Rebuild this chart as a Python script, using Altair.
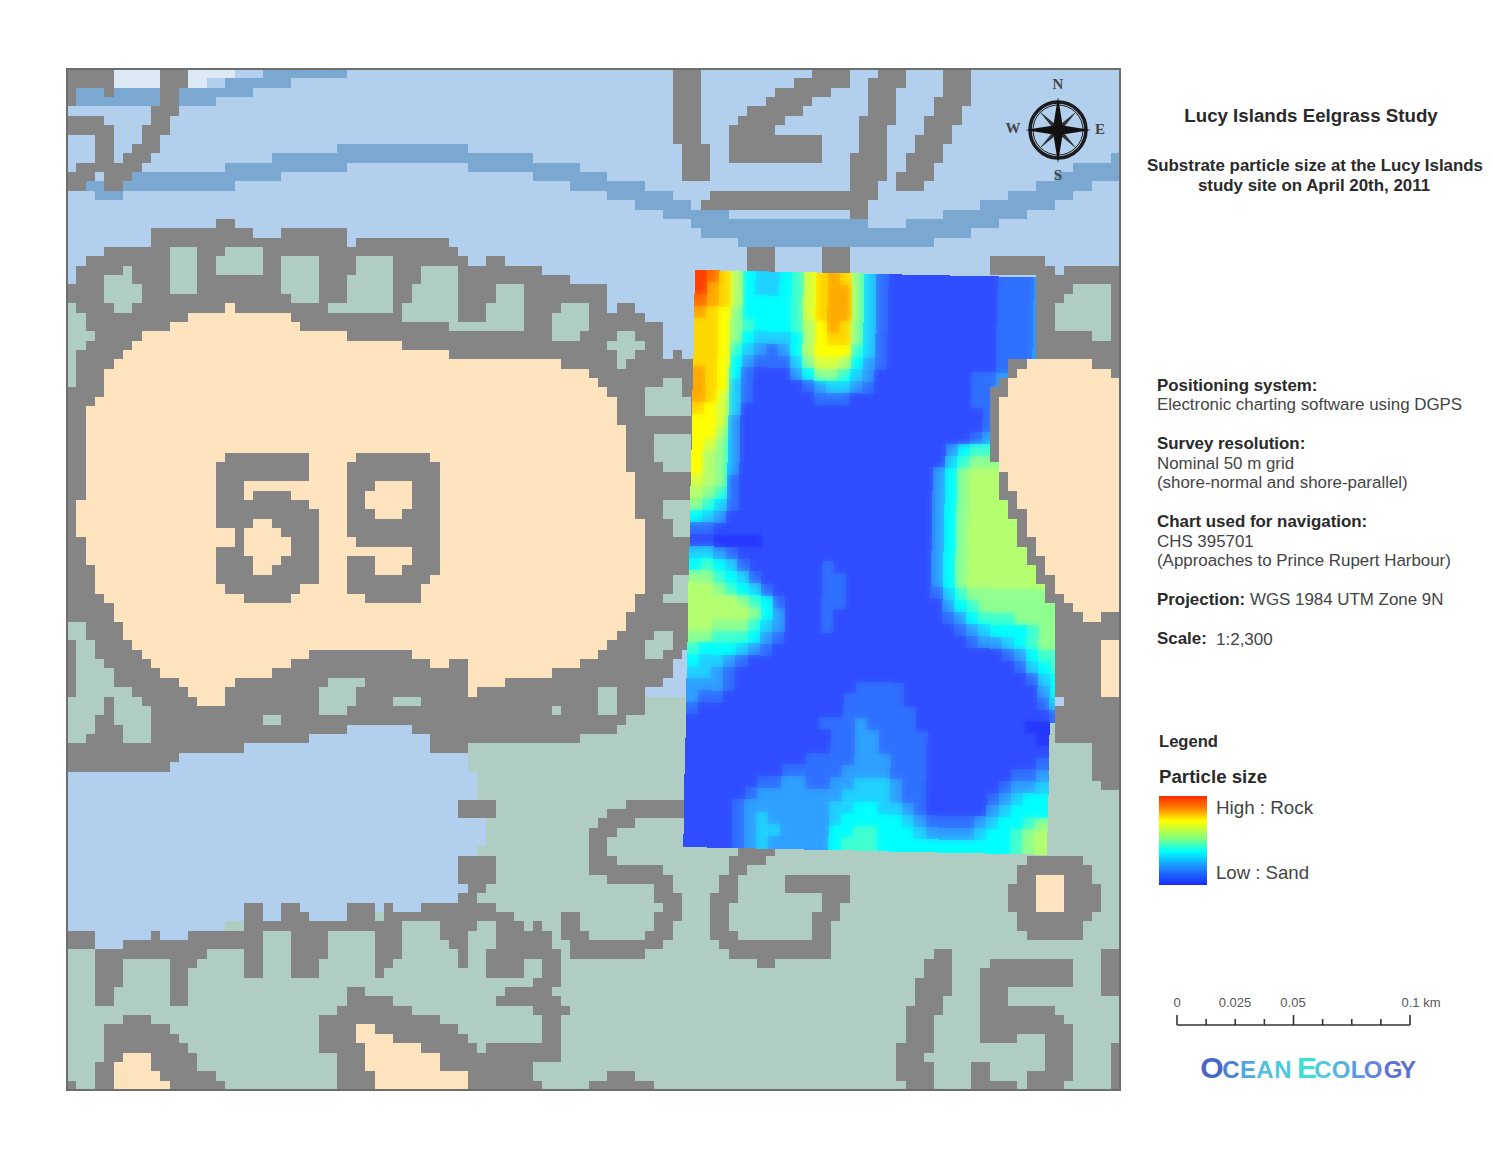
import numpy as np
import pandas as pd
import altair as alt

alt.data_transformers.disable_max_rows()

BLUE, LIGHT, CHANNEL, SAGE, GRAY, TAN = "#b2cfed", "#dce9f5", "#7ba8d0", "#afcdc2", "#858585", "#fde4bf"
MAP_X0, MAP_X1, MAP_Y0, MAP_Y1 = 67, 1120, 69, 1090
N_COLS, N_ROWS = 113, 109

TAN_59 = [(230,303),(238,303),(240,313),(273,313),(303,322),(303,332),(385,340),(410,348),(453,350),(453,358),(545,360),(583,370),(610,393),(620,413),(630,470),(638,517),(648,517),(648,592),(638,592),(630,617),(620,637),(610,647),(592,657),(573,667),(547,675),(537,683),(517,675),(500,685),(472,693),(472,677),(462,657),(443,667),(417,657),(397,647),(332,647),(303,657),(285,667),(265,675),(230,685),(230,702),(202,702),(182,685),(163,675),(147,657),(128,637),(110,608),(98,590),(90,567),(82,537),(73,535),(73,497),(82,497),(82,423),(92,405),(100,393),(110,368),(118,358),(137,342),(155,330),(182,322),(202,313),(220,313)]
RING_OUTER = [(67,287),(82,267),(90,258),(110,248),(155,248),(155,230),(212,230),(220,238),(220,220),(238,220),(238,230),(275,238),(285,230),(340,230),(350,245),(360,238),(425,238),(443,238),(452,248),(472,258),(472,267),(490,267),(490,257),(508,257),(508,267),(535,267),(545,277),(553,285),(553,277),(573,277),(573,285),(602,285),(610,295),(610,313),(620,313),(620,305),(638,305),(638,313),(657,323),(665,332),(665,358),(675,358),(675,350),(683,350),(683,358),(700,358),(700,640),(683,648),(675,660),(665,683),(647,683),(647,710),(628,715),(620,730),(582,730),(582,747),(573,747),(573,740),(555,740),(555,748),(537,748),(537,740),(472,740),(472,757),(433,757),(433,730),(410,730),(380,720),(340,730),(323,737),(303,740),(295,748),(248,748),(230,757),(175,757),(165,767),(67,767)]
SAGE_BLOBS = [
    [(100,277),(128,267),(138,287),(147,297),(138,305),(118,313),(110,322),(108,293),(100,293)],
    [(173,248),(202,248),(193,257),(193,293),(165,293),(165,267)],
    [(230,248),(267,248),(257,275),(220,275),(220,257)],
    [(287,257),(322,257),(322,303),(295,303),(277,293),(277,277)],
    [(360,257),(388,257),(397,267),(397,313),(322,312),(340,303),(350,293),(350,275)],
    [(425,267),(452,267),(462,275),(462,322),(407,322),(407,303),(415,303),(415,287)],
    [(500,285),(527,285),(527,332),(452,332),(452,323),(480,322),(500,293)],
    [(563,303),(592,303),(592,322),(583,332),(583,340),(555,340),(545,323),(555,313)],
    [(625,332),(648,342),(640,350),(623,368),(610,350),(610,342)],
    [(648,388),(675,377),(690,403),(690,412),(648,412)],
    [(657,433),(690,433),(690,470),(665,470),(657,455)],
    [(667,498),(690,503),(690,535),(675,535),(667,515)],
    [(675,572),(690,572),(690,600),(665,600)],
    [(657,628),(665,628),(675,640),(665,655),(647,665),(647,650)],
    [(67,303),(80,315),(97,335),(80,350),(75,385),(67,385)],
    [(67,613),(83,627),(100,657),(118,683),(155,717),(155,740),(135,740),(132,745),(67,745)],
    [(333,675),(370,675),(360,683),(350,712),(322,712),(322,685)],
    [(388,685),(397,695),(425,695),(425,703),(405,705),(400,712),(390,700)],
    [(267,712),(287,712),(285,720),(265,722),(260,730),(257,722)],
    [(183,730),(212,730),(212,738),(183,738)],
    [(602,683),(620,683),(620,710),(610,712),(602,712)],
    [(555,702),(563,702),(563,720),(537,720),(537,712),(555,712)],
]
GRAY_ON_RING = [
    [(100,693),(118,693),(118,720),(127,740),(137,750),(82,750),(82,730),(92,730),(92,713),(100,713)],
    [(67,637),(80,637),(80,660),(75,695),(67,695)],
]
DIGIT_5 = [(220,462),(230,452),(313,452),(313,478),(248,478),(248,498),(258,490),(285,490),(303,500),(312,510),(322,527),(322,572),(303,590),(293,600),(248,600),(230,590),(220,580),(220,545),(238,545),(238,528),(228,525),(220,525)]
DIGIT_5_HOLE = [(238,535),(268,517),(285,533),(293,543),(293,557),(277,563),(267,572),(257,570),(240,543)]
DIGIT_9 = [(342,470),(360,452),(423,452),(443,472),(443,563),(425,590),(415,600),(370,600),(350,590),(342,572),(342,565),(360,555),(368,555),(378,572),(397,572),(410,560),(415,543),(360,543),(342,525)]
DIGIT_9_HOLE = [(368,497),(378,480),(400,480),(415,490),(415,507),(400,517),(378,517),(368,507)]
SAGE_SOUTH = [(462,745),(470,700),(1120,690),(1120,1090),(67,1090),(67,945),(100,948),(200,940),(240,920),(410,915),(463,895),(482,845),(482,800)]
WAVE = [(67,935),(98,935),(98,945),(118,945),(147,943),(147,935),(163,935),(163,943),(192,943),(192,935),(212,927),(248,927),(248,907),(267,907),(267,917),(277,917),(277,907),(303,907),(313,925),(323,925),(323,917),(350,917),(350,907),(370,907),(370,917),(388,917),(388,907),(400,908),(417,908),(417,898),(452,898),(452,906),(462,906),(462,897),(480,897),(480,906),(507,908),(517,917),(527,927),(527,935),(537,925),(545,925),(555,935),(555,953),(563,953),(563,988),(555,988),(555,1000),(563,1000),(573,1008),(563,1017),(563,1053),(555,1062),(537,1062),(537,1083),(545,1090),(472,1090),(472,1073),(443,1072),(433,1053),(415,1045),(472,1045),(490,1055),(490,1045),(545,1045),(545,1017),(528,1007),(500,1007),(500,992),(545,980),(545,962),(527,962),(517,978),(490,978),(490,953),(500,952),(500,925),(480,925),(472,935),(470,968),(460,968),(453,943),(443,935),(443,917),(423,917),(405,925),(403,950),(395,960),(380,978),(370,960),(370,933),(330,933),(330,952),(313,978),(295,978),(295,933),(267,933),(267,978),(248,978),(240,945),(220,945),(193,972),(182,1007),(165,1007),(165,962),(127,962),(127,972),(108,1007),(92,1007),(92,952),(67,952)]
ISLAND_SW_GRAY = [(128,1018),(147,1018),(165,1028),(183,1038),(193,1053),(202,1073),(220,1075),(230,1090),(92,1090),(92,1065),(100,1065),(100,1038),(110,1027)]
ISLAND_SW_TAN = [(128,1055),(155,1055),(155,1073),(173,1090),(118,1090),(118,1065)]
ISLAND_S_GRAY = [(323,1018),(345,1005),(350,990),(368,990),(372,1000),(395,1000),(415,1008),(415,1018),(433,1018),(452,1028),(470,1038),(472,1090),(342,1090),(333,1078),(333,1053),(323,1053)]
ISLAND_S_TAN = [(360,1027),(378,1027),(378,1035),(397,1035),(397,1045),(415,1045),(433,1053),(443,1072),(472,1073),(472,1090),(378,1090),(378,1073),(370,1072),(368,1055),(360,1045),(350,1040),(360,1035)]

MAP_SHAPES = [
    (BLUE, [(67,69),(1120,69),(1120,1090),(67,1090)]),
    (LIGHT, [(118,70),(250,70),(190,87),(118,90)]),
    (CHANNEL, [(75,100),(190,100),(225,92),(265,82),(300,73),(345,68)], 16),
    (CHANNEL, [(95,187),(200,183),(260,170),(340,158),(445,155),(525,166),(590,180),(650,198),(700,218)], 19),
    (CHANNEL, [(700,218),(745,233),(905,237),(953,225),(990,215),(1040,197),(1087,175),(1120,168)], 25),
    (SAGE, SAGE_SOUTH),
    (GRAY, RING_OUTER),
]
MAP_SHAPES += [(SAGE, b) for b in SAGE_BLOBS]
MAP_SHAPES += [(GRAY, g) for g in GRAY_ON_RING]
MAP_SHAPES += [
    (TAN, TAN_59),
    (GRAY, DIGIT_5), (TAN, DIGIT_5_HOLE), (GRAY, DIGIT_9), (TAN, DIGIT_9_HOLE),
    (GRAY, WAVE), (GRAY, ISLAND_SW_GRAY), (TAN, ISLAND_SW_TAN), (GRAY, ISLAND_S_GRAY), (TAN, ISLAND_S_TAN),
    (GRAY, [(462,795),(500,795),(500,822),(462,822)]),
    (GRAY, [(462,860),(500,860),(500,887),(490,887),(490,897),(472,897),(472,887),(462,887)]),
    (GRAY, [(592,1090),(592,1082),(612,1082),(612,1073),(638,1073),(638,1082),(657,1082),(657,1090)]),
    (GRAY, [(67,70),(118,70),(118,100),(100,100),(100,88),(75,92),(75,105),(67,105)]),
    (GRAY, [(67,125),(95,126),(106,140),(104,160),(85,175),(68,185)], 19),
    (GRAY, [(175,70),(172,100),(160,125),(148,145),(135,165),(112,178)], 21),
    (GRAY, [(690,70),(686,100),(690,135),(695,170)], 27),
    (GRAY, [(838,72),(800,95),(770,115),(740,135)], 28),
    (GRAY, [(730,137),(823,137),(823,163),(730,163)]),
    (GRAY, [(892,70),(880,110),(870,150),(866,190)], 30),
    (GRAY, [(960,70),(950,110),(935,135),(912,180)], 29),
    (GRAY, [(713,202),(855,202),(862,212)], 19),
    (GRAY, [(750,248),(778,248),(778,275),(750,275)]),
    (GRAY, [(823,248),(852,248),(852,275),(823,275)]),
    (GRAY, [(682,813),(640,813),(615,815),(601,835),(601,868),(625,873),(660,880),(672,905),(665,925),(645,945),(620,952),(585,952),(573,935),(573,920)], 20),
    (GRAY, [(640,795),(667,795),(667,805),(640,805)]),
    (GRAY, [(765,850),(745,855),(733,875),(723,900),(722,930),(735,950),(760,952),(825,952),(825,915),(838,895)], 20),
    (GRAY, [(787,878),(852,878),(852,897),(787,897)]),
    (GRAY, [(760,958),(777,958),(777,970),(760,970)]),
    (GRAY, [(1035,852),(1068,852),(1092,872),(1102,895),(1098,915),(1072,942),(1038,942),(1015,925),(1010,895),(1018,868)]),
    (TAN, [(1037,878),(1065,878),(1065,905),(1057,915),(1045,915),(1037,905)]),
    (GRAY, [(942,968),(930,995),(920,1025),(912,1060),(920,1090)], 30),
    (GRAY, [(990,962),(1073,962),(1073,988),(990,988)]),
    (GRAY, [(983,972),(1008,972),(1008,1043),(983,1043)]),
    (GRAY, [(983,1010),(1055,1010),(1073,1030),(1073,1075),(1060,1090),(1027,1090),(1027,1078),(1045,1065),(1045,1040),(1038,1035),(983,1043)]),
    (GRAY, [(973,1063),(990,1063),(990,1078),(1018,1083),(1018,1090),(973,1090)]),
    (GRAY, [(1103,952),(1120,952),(1120,998),(1103,998)]),
    (GRAY, [(1112,1045),(1120,1045),(1120,1090),(1112,1090)]),
    (GRAY, [(67,1083),(80,1083),(80,1090),(67,1090)]),
    (GRAY, [(1085,740),(1120,740),(1120,793),(1103,793),(1095,775),(1095,755)]),
]
OVERLAY_SHAPES = [
    (GRAY, [(1033,355),(1010,365),(990,395),(985,430),(995,470),(1010,515),(1030,560),(1045,590),(1056,615),(1054,740),(1120,740),(1120,267),(1065,267),(1055,285),(1047,258),(990,258),(990,277),(1033,277)]),
    (SAGE, [(1073,287),(1112,287),(1112,340),(1057,330),(1057,310)]),
    (TAN, [(1033,362),(1093,360),(1095,368),(1112,370),(1120,380),(1120,612),(1085,620),(1075,615),(1060,595),(1045,565),(1030,530),(1015,495),(1003,470),(997,430),(1000,405),(1010,385),(1017,375)]),
    (TAN, [(1103,640),(1120,640),(1120,695),(1103,695)]),
    (BLUE, [(1057,696),(1066,696),(1066,705),(1057,705)]),
]
# relative particle size read across the survey, one row per line (hex level 0-e)
SURVEY_ROWS = [
"edb8544569bcb7421111111112223","ecb8544569bcc7421111111112223","dcb8555569bcc7421111111112223",
"cba7555569bcc7421111111112223","bba7655568acb7421111111112223","bba7544458abb7421111111112223",
"bba6432358aaa6421111111112223","bba53222479985321111111112223","cba5211135776431111111122333333",
"cba4211112344321111111122333333","cb94211111222111111111122333333","ba94111111111111111111112333333",
"aa93111111111111111111112344444","aa83111111111111111111123555555","a973111111111111111113566666666",
"a873111111111111111114677777777",
"a873111111111111111135788888888","987211111111111111113578888888","876211111111111111113578888888",
"764211111111111111113578888888","543111111111111111113578888888","221111111111111111113578888888",
"110000111111111111113578888888","443211111111111111113578888888","565421111112111111113578888888",
"776542111112211111113578888888",
"88765421111221111111"+"24677777777","88887652111221111111"+"13567777777","88888753111211111111"+"12356667777",
"88777643111211111111"+"11234555677","77666532111111111111"+"11123345677","65554321111111111111"+"11111123566",
"54432111111111111111"+"11111112456","44321111111111111111"+"11111111245","33321111111111222211"+"11111111135",
"32211111111112222211"+"11111111124","21111111111112222221"+"11111111112","11111111111222322221"+"1111111100",
"11111111111122332222"+"1111111110","11111111111122332222"+"1111111111","11111111112222333222"+"1111111112",
"11111111222223333222"+"1111111223","11111122332233444322"+"1111112334","11111233333334444322"+"1111123455",
"11112333333344554432"+"1111134555","11112343333345555543"+"2222345567","11112344333355665554"+"3333455678",
"11112343333356665555"+"5555555678",
]
LEVEL_COLOURS = ["#2538ff","#2f4dff","#3070ff","#2fa0ff","#20d0ff","#00ffff","#40ffd0","#90ff90","#b4ff70","#d8ff40","#ffff00","#ffd800","#ffaa00","#ff7000","#ff4000"]
LEGEND_STOPS = [("#ff2a00",0),("#ff8a00",0.15),("#ffff00",0.28),("#80ff80",0.48),("#00ffff",0.62),("#1c8cff",0.8),("#1a2aff",1)]

BOLD_LEFT = [("Positioning system:",1157,386,16.9),("Survey resolution:",1157,444,16.9),("Chart used for navigation:",1157,522,16.9),("Projection:",1157,600,16.9),("Scale:",1157,639,16.9),("Legend",1159,742,16.6),("Particle size",1159,777,18.7)]
BOLD_CENTER = [("Lucy Islands Eelgrass Study",1311,116,18.7),("Substrate particle size at the Lucy Islands",1315,166,16.9),("study site on April 20th, 2011",1314,186,16.9)]
NORMAL_LEFT = [("Electronic charting software using DGPS",1157,405,16.9),("Nominal 50 m grid",1157,464,16.9),("(shore-normal and shore-parallel)",1157,483,16.9),("CHS 395701",1157,542,16.9),("(Approaches to Prince Rupert Harbour)",1157,561,16.9),("WGS 1984 UTM Zone 9N",1250,600,16.9),("1:2,300",1216,640,17),("High : Rock",1216,808,18.8),("Low : Sand",1216,873,18.6)]
SCALE_KM = [0,0.0125,0.025,0.0375,0.05,0.0625,0.075,0.0875,0.1]
SCALE_LABELS = [("0",1177),("0.025",1235),("0.05",1293),("0.1 km",1421)]
LOGO = [("O",1212,"#4a66c8",30),("C",1231,"#5080d0",24),("E",1248,"#50a8e0",24),("A",1265,"#50c0e0",24),("N",1283,"#50c8e0",24),("E",1307,"#40e0d0",30),("C",1323,"#50c8e0",24),("O",1341,"#5ab0e0",24),("L",1358,"#5a9ae0",24),("O",1373,"#6088e0",24),("G",1393,"#6070d8",24),("Y",1408,"#5a70d0",24)]
COMPASS_LETTERS = [("N",1058,84),("S",1058,175),("W",1013,128),("E",1100,129)]

cell_w, cell_h = (MAP_X1-MAP_X0)/N_COLS, (MAP_Y1-MAP_Y0)/N_ROWS
cx, cy = np.meshgrid(MAP_X0+(np.arange(N_COLS)+.5)*cell_w, MAP_Y0+(np.arange(N_ROWS)+.5)*cell_h)

def inside(poly):
    p = np.array(poly, float)
    q = np.roll(p, -1, axis=0)
    hit = np.zeros(cx.shape, bool)
    for (x0,y0),(x1,y1) in zip(p,q):
        if y0 == y1:
            continue
        hit ^= ((y0 > cy) != (y1 > cy)) & (cx < x0+(cy-y0)*(x1-x0)/(y1-y0))
    return hit

def near(line, w):
    best = np.full(cx.shape, 1e9)
    for (x0,y0),(x1,y1) in zip(line[:-1], line[1:]):
        dx, dy = x1-x0, y1-y0
        t = np.clip(((cx-x0)*dx+(cy-y0)*dy)/(dx*dx+dy*dy), 0, 1)
        best = np.minimum(best, np.hypot(cx-x0-t*dx, cy-y0-t*dy))
    return best <= w/2

def paint(shapes):
    grid = np.full(cx.shape, "", dtype=object)
    for s in shapes:
        grid[inside(s[1]) if len(s) == 2 else near(s[1], s[2])] = s[0]
    return grid

def runs(grid):
    out = []
    for j in range(N_ROWS):
        i = 0
        while i < N_COLS:
            k = i
            while k+1 < N_COLS and grid[j,k+1] == grid[j,i]:
                k += 1
            if grid[j,i]:
                out.append(dict(x=round(MAP_X0+i*cell_w), x2=round(MAP_X0+(k+1)*cell_w),
                                y=round(MAP_Y0+j*cell_h), y2=round(MAP_Y0+(j+1)*cell_h), c=grid[j,i]))
            i = k+1
    return pd.DataFrame(out)

def hex_rgb(h):
    return np.array([int(h[i:i+2],16) for i in (1,3,5)], float)
RGB = [hex_rgb(h) for h in LEVEL_COLOURS]
def level_colour(v):
    a = int(np.floor(v)); b = min(a+1, 14)
    m = RGB[a]+(RGB[b]-RGB[a])*(v-a)
    return "#%02x%02x%02x" % tuple(int(round(t)) for t in m)

def level(r, c, fallback):
    if 0 <= r < len(SURVEY_ROWS) and 0 <= c < len(SURVEY_ROWS[r]):
        return int(SURVEY_ROWS[r][c], 16)
    return fallback

def sx(r, c): return round(695+12.1*c-12*r/48)
def sy(r, c): return round(270+12*r+8*c/30)

flat, across, down = [], [], []
for r,row in enumerate(SURVEY_ROWS):
    for c,ch in enumerate(row):
        v = int(ch,16)
        box = dict(x=sx(r,c), x2=sx(r,c+1), y=sy(r,c), y2=sy(r+1,c))
        flat.append(dict(x=box["x"], x2=box["x2"]+1, y=box["y"], y2=box["y2"]+1, v=v))
        across.append(dict(box, g=dict(gradient="linear", x1=0, x2=1, y1=0, y2=0, stops=[
            dict(offset=0, color=level_colour((v+level(r,c-1,v))/2)), dict(offset=.5, color=level_colour(v)),
            dict(offset=1, color=level_colour((v+level(r,c+1,v))/2))])))
        down.append(dict(box, g=dict(gradient="linear", x1=0, x2=0, y1=0, y2=1, stops=[
            dict(offset=0, color=level_colour((v+level(r-1,c,v))/2)), dict(offset=.5, color=level_colour(v)),
            dict(offset=1, color=level_colour((v+level(r+1,c,v))/2))])))

xs = alt.Scale(domain=[8,1484], nice=False, zero=False)
ys = alt.Scale(domain=[1144,8], nice=False, zero=False)
X = alt.X("x:Q", scale=xs, axis=None)
Y = alt.Y("y:Q", scale=ys, axis=None)

def cells(df):
    return alt.Chart(df).mark_rect(strokeWidth=0).encode(X, Y, x2="x2:Q", y2="y2:Q", color=alt.Color("c:N", scale=None))

def shaded(records, opacity):
    return alt.Chart(alt.Data(values=records)).mark_rect(strokeWidth=0, opacity=opacity).encode(
        X, Y, x2="x2:Q", y2="y2:Q", fill=alt.Fill("g:N", scale=None))

def texts(rows, align, weight, family="Liberation Sans", colour="#2a2a2a"):
    df = pd.DataFrame(rows, columns=["t","x","y","s"])
    return alt.Chart(df).mark_text(align=align, baseline="middle", fontWeight=weight, font=family, color=colour).encode(
        X, Y, text="t:N", size=alt.Size("s:Q", scale=None))

layers = [
    cells(runs(paint(MAP_SHAPES))),
    alt.Chart(pd.DataFrame(flat)).mark_rect(strokeWidth=0).encode(X, Y, x2="x2:Q", y2="y2:Q",
        color=alt.Color("v:Q", legend=None, scale=alt.Scale(domain=list(range(15)), range=LEVEL_COLOURS))),
    shaded(across, 1),
    shaded(down, 0.5),
    cells(runs(paint(OVERLAY_SHAPES))),
    alt.Chart(pd.DataFrame([dict(x=MAP_X0,x2=MAP_X1,y=MAP_Y0,y2=MAP_Y1)])).mark_rect(fillOpacity=0, stroke="#6e6e6e", strokeWidth=2).encode(X, Y, x2="x2:Q", y2="y2:Q"),
]

centre = pd.DataFrame([dict(x=1058,y=130)])
layers += [
    alt.Chart(centre).mark_point(shape="circle", size=3136, filled=False, stroke="#1c1c1c", strokeWidth=3.5, opacity=1).encode(X, Y),
    alt.Chart(centre).mark_point(shape="circle", size=2500, filled=False, stroke="#1c1c1c", strokeWidth=1, opacity=1).encode(X, Y),
    alt.Chart(centre).mark_point(shape="M.7,-.7L.13,0L.7,.7L0,.13L-.7,.7L-.13,0L-.7,-.7L0,-.13Z", size=3000, filled=True, color="#333", opacity=1).encode(X, Y),
    alt.Chart(centre).mark_point(shape="M0,-1L.14,-.14L1,0L.14,.14L0,1L-.14,.14L-1,0L-.14,-.14Z", size=4356, filled=True, color="#111", opacity=1).encode(X, Y),
    texts([(t,x,y,15) for t,x,y in COMPASS_LETTERS], "center", "bold", "Liberation Serif", "#444"),
]

layers += [texts(BOLD_LEFT,"left","bold"), texts(BOLD_CENTER,"center","bold"),
           texts(NORMAL_LEFT,"left","normal",colour="#444")]

layers.append(alt.Chart(pd.DataFrame([dict(x=1159,x2=1207,y=796,y2=885)])).mark_rect(
    color=alt.Gradient(gradient="linear", x1=0, x2=0, y1=0, y2=1,
                       stops=[alt.GradientStop(color=c, offset=o) for c,o in LEGEND_STOPS])).encode(X, Y, x2="x2:Q", y2="y2:Q"))

bar_x = lambda km: 1177+km*2330
bar = pd.DataFrame([dict(x=bar_x(k), y=1015 if i % 4 == 0 else 1019, y2=1025) for i,k in enumerate(SCALE_KM)])
layers += [
    alt.Chart(pd.DataFrame([dict(x=bar_x(0),x2=bar_x(SCALE_KM[-1]),y=1025)])).mark_rule(color="#333",strokeWidth=1.6).encode(X, Y, x2="x2:Q"),
    alt.Chart(bar).mark_rule(color="#333",strokeWidth=1.6).encode(X, Y, y2="y2:Q"),
    texts([(t,x,1003,13) for t,x in SCALE_LABELS],"center","normal",colour="#555"),
]

logo = pd.DataFrame([dict(t=t,x=x,y=1078,s=s,c=c) for t,x,c,s in LOGO])
layers.append(alt.Chart(logo).mark_text(align="center",baseline="alphabetic",fontWeight="bold",font="Liberation Sans").encode(
    X, Y, text="t:N", size=alt.Size("s:Q",scale=None), color=alt.Color("c:N",scale=None)))

chart = alt.layer(*layers).properties(width=1476, height=1136, padding=0,
    autosize=alt.AutoSizeParams(type="none"), background="white").configure_view(stroke=None)
chart.save("out.html", embed_options={"renderer": "svg", "actions": False})
